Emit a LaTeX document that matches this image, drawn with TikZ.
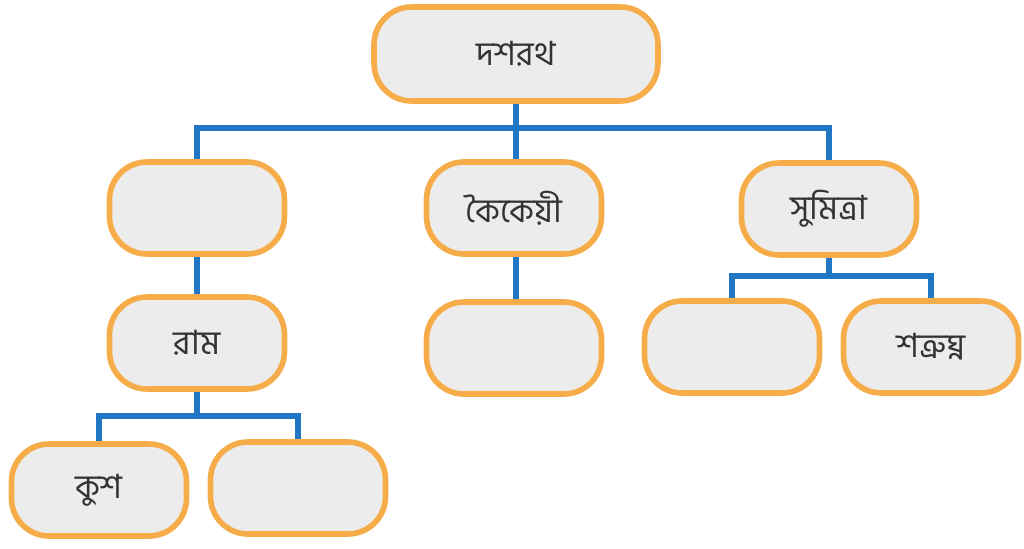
\documentclass[tikz,border=0pt]{standalone}
\usepackage{fontspec}
\newfontfamily\bangla[Script=Bengali]{Hind Siliguri}
\usetikzlibrary{backgrounds}
\definecolor{boxline}{RGB}{246,172,72}
\definecolor{boxfill}{RGB}{236,236,236}
\definecolor{linkblue}{RGB}{30,118,196}
\tikzset{person/.style={draw=boxline, fill=boxfill, line width=3.2pt, rounded corners=0.75cm, minimum width=3.5cm, minimum height=1.84cm, font=\bangla\fontsize{19}{22}\selectfont, text=black!80}}
\tikzset{link/.style={draw=linkblue, line width=3.6pt}}

\begin{document}
\begin{tikzpicture}[x=0.02cm, y=-0.02cm]
    \useasboundingbox (0,0) rectangle (1024,548);
    % family tree
    \node[person, minimum width=5.68cm, minimum height=1.88cm] (dasharath) at (516,54) {দশরথ};
    \node[person] (blankA) at (197,208) {};
    \node[person] (kaikeyi) at (514,208) {কৈকেয়ী};
    \node[person] (sumitra) at (829,209) {সুমিত্রা};
    \node[person] (ram) at (197,343) {রাম};
    \node[person] (blankB) at (514,348) {};
    \node[person] (blankC) at (732,347) {};
    \node[person] (shatrughna) at (931,347) {শত্রুঘ্ন};
    \node[person] (kush) at (99,490) {কুশ};
    \node[person] (blankD) at (298,488) {};
    \begin{scope}[on background layer]
        \coordinate (topbus) at (516,128);
        \coordinate (sumitrabus) at (829,276);
        \coordinate (rambus) at (197,416);
        \draw[link] (blankA.north) |- (topbus) -| (sumitra.north);
        \draw[link] (dasharath.south) -- (topbus) -- (topbus |- kaikeyi.north);
        \draw[link] (blankA.south) -- (ram.north);
        \draw[link] (topbus |- kaikeyi.south) -- (topbus |- blankB.north);
        \draw[link] (blankC.north) |- (sumitrabus) -| (shatrughna.north);
        \draw[link] (sumitra.south) -- (sumitrabus);
        \draw[link] (kush.north) |- (rambus) -| (blankD.north);
        \draw[link] (ram.south) -- (rambus);
    \end{scope}
\end{tikzpicture}
\end{document}
